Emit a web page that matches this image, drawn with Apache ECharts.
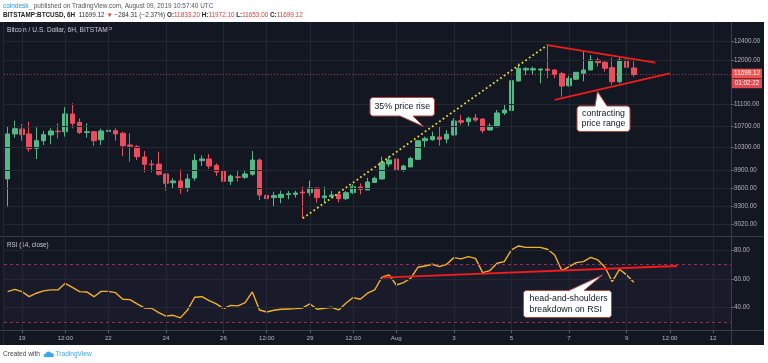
<!DOCTYPE html>
<html><head><meta charset="utf-8">
<script src="https://cdn.jsdelivr.net/npm/echarts@6/dist/echarts.min.js"></script>
<style>html,body{margin:0;padding:0;background:#fff}#c{width:768px;height:363px}</style>
</head><body><div id="c"></div>
<script>
// ---------- DATA ----------
// 6H candles starting 2019-07-18 12:00 UTC
const opens  = [9754,10549,10640,10549,10288,10425,10530,10600,10590,10922,10765,10575,10590,10443,10595,10610,10561,10348,10318,10134,10010,10010,9840,9690,9720,9607,9771,10070,10099,9988,9891,9715,9790,9782,9834,10081,9481,9443,9443,9492,9497,9535,9524,9602,9443,9460,9497,9426,9524,9619,9569,9696,9754,10011,10099,9902,9960,10093,10425,10443,10493,10455,10530,10795,10776,10846,10827,10622,10683,10941,10990,11566,11790,11790,11790,11811,11790,11716,11472,11603,11723,11790,11997,11948,11838,11552,11997,11833.2];
const closes = [10549,10646,10536,10281,10425,10536,10604,10590,10922,10747,10575,10590,10425,10604,10616,10549,10335,10326,10139,10006,10000,9834,9681,9720,9590,9754,10075,10099,9977,9874,9715,9805,9780,9840,10081,9486,9426,9475,9497,9508,9519,9519,9602,9443,9470,9486,9426,9524,9624,9580,9703,9766,10040,10081,9908,9977,10110,10425,10468,10500,10450,10543,10790,10765,10840,10808,10610,10697,10941,10998,11572,11825,11825,11818,11811,11784,11703,11466,11620,11743,11790,11997,11941,11825,11552,11997,11846,11699.12];
const lows   = [9285,10480,10425,10228,10099,10348,10360,10468,10500,10653,10549,10480,10330,10348,10518,10425,10151,10051,10081,9868,9868,9810,9557,9590,9508,9540,9725,9977,9925,9805,9647,9652,9708,9754,9810,9404,9285,9295,9350,9415,9443,9109,9475,9360,9360,9443,9366,9404,9503,9497,9569,9685,9749,9960,9902,9874,9960,10081,10308,10425,10335,10379,10518,10715,10683,10776,10561,10610,10672,10900,10980,11560,11689,11689,11520,11623,11623,11256,11453,11589,11560,11784,11858,11756,11486,11520,11805,11653];
const highs  = [10683,10795,10734,10776,10672,10604,10653,10747,11052,11127,10840,10747,10595,10646,10683,10653,10590,10561,10348,10240,10081,10228,9845,9766,9920,9840,10187,10164,10187,10023,9908,9834,9897,9902,10240,10110,9514,9540,9557,9552,9557,9624,9725,9610,9624,9552,9524,9552,9663,9680,9774,9794,10140,10140,10140,10000,10140,10438,10500,10590,10683,10622,10840,10903,10872,10922,10840,10747,10998,11094,11586,11928,11846,11858,11818,12314,11811,11750,11668,11750,12175,12102,12045,11982,12045,12045,12045,11972.1];
const rsi = [51.1,52.7,51.1,47.6,50.0,51.6,52.3,52.3,56.9,54.1,51.1,50.9,47.6,51.3,51.3,50.4,45.8,45.6,42.6,39.8,39.6,36.6,34.2,34.7,32.9,38.4,47.2,47.6,44.9,42.6,39.3,41.6,41.2,43.5,50.9,38.4,37.0,38.2,38.9,39.1,39.3,39.8,42.6,38.9,39.6,40.3,38.4,43.0,47.0,45.8,50.0,52.3,61.1,62.7,55.7,57.4,60.4,68.0,68.9,70.1,68.4,70.1,74.7,73.8,75.4,74.2,64.3,65.7,70.8,71.9,80.0,82.8,81.8,81.8,81.8,80.5,76.5,65.7,68.4,71.2,71.9,74.9,73.1,68.0,58.0,66.6,62.7,57.6];
const lastPrice = 11699.12;
const priceTicks = [9020,9300,9600,9900,10300,10700,11100,12000,12400];
const rsiTicks = [40,60,80];
const rsiBands = [30,70];
const tickCats   = ['07-19 00:00','07-20 12:00','07-22 00:00','07-24 00:00','07-26 00:00','07-27 12:00','07-29 00:00','07-30 12:00','08-01 00:00','08-03 00:00','08-05 00:00','08-07 00:00','08-09 00:00','08-10 12:00','08-12 00:00'];
const tickLabels = ['19','12:00','22','24','26','12:00','29','12:00','Aug','3','5','7','9','12:00','12'];
// trend lines: [categoryIndex, value]
const riseLine  = [[41,9109],[75,12314]];
const triUpper  = [[75,12314],[90,11941]];
const triLower  = [[76,11191],[92,11723]];
const rsiLine   = [[52,60.8],[93,68.9]];

// ---------- AXIS SCAFFOLD ----------
const pad = n => String(n).padStart(2,'0');
const cats = [];
const t0 = Date.UTC(2019,6,18,12);
for (let k=0;k<101;k++){const d=new Date(t0+k*6*3600e3);cats.push(pad(d.getUTCMonth()+1)+'-'+pad(d.getUTCDate())+' '+pad(d.getUTCHours())+':00');}
const labelMap = {}; tickCats.forEach((c,i)=>labelMap[c]=tickLabels[i]);
const candles = opens.map((o,i)=>[o,closes[i],lows[i],highs[i]]);

const BG='#131722', GRID='#242833', SEP='#3a3e4a', TXT='#b2b5be';
const UP='#53b987', DN='#eb4d5c';
const F='Liberation Sans';

function seg(pts){return [{coord:[cats[pts[0][0]],pts[0][1]]},{coord:[cats[pts[1][0]],pts[1][1]]}];}

// callout shapes (annotation layout, pixels)
const callouts = [
 {x:370, y:97.5, w:64.5, h:18.5, side:'bottom', b1:400, b2:413, tx:423.5, ty:126.5, lines:['35% price rise'], align:'center'},
 {x:577, y:106, w:53, h:25.5, side:'top', b1:595, b2:607, tx:597.5, ty:91.5, lines:['contracting','price range'], align:'center'},
 {x:523.5, y:290.5, w:88, h:27, side:'top', b1:569, b2:584, tx:602.5, ty:275, lines:['head-and-shoulders','breakdown on RSI'], align:'left'}
];
function arc(pts,cx,cy,r,a0,a1){for(let k=0;k<=4;k++){const a=a0+(a1-a0)*k/4;pts.push([cx+r*Math.cos(a),cy+r*Math.sin(a)]);}}
function calloutPoly(c){
  const {x,y,w,h}=c, r=3, P=Math.PI, pts=[];
  arc(pts,x+r,y+r,r,P,1.5*P);
  if(c.side==='top'){pts.push([c.b1,y],[c.tx,c.ty],[c.b2,y]);}
  arc(pts,x+w-r,y+r,r,1.5*P,2*P);
  arc(pts,x+w-r,y+h-r,r,0,0.5*P);
  if(c.side==='bottom'){pts.push([c.b2,y+h],[c.tx,c.ty],[c.b1,y+h]);}
  arc(pts,x+r,y+h-r,r,0.5*P,P);
  return pts;
}
const graphics = [
  {type:'rect',shape:{x:0,y:0,width:768,height:22},style:{fill:'#fff'},silent:true},
  {type:'rect',shape:{x:0,y:345,width:768,height:18},style:{fill:'#fff'},silent:true},
  {type:'rect',shape:{x:764,y:0,width:4,height:363},style:{fill:'#fff'},silent:true},
  {type:'line',shape:{x1:0,y1:236.5,x2:764,y2:236.5},style:{stroke:SEP,lineWidth:1},silent:true},
  {type:'line',shape:{x1:0,y1:330.5,x2:764,y2:330.5},style:{stroke:SEP,lineWidth:1},silent:true},
  {type:'line',shape:{x1:731.5,y1:22,x2:731.5,y2:345},style:{stroke:SEP,lineWidth:1},silent:true},
  {type:'line',shape:{x1:3.5,y1:22,x2:3.5,y2:345},style:{stroke:GRID,lineWidth:1},silent:true},
  {type:'text',x:3,y:6.5,style:{text:'{a|coindesk_} published on TradingView.com, August 09, 2019 10:57:40 UTC',fill:'#555',font:'6.45px '+F,verticalAlign:'middle',rich:{a:{fill:'#2196f3',font:'6.45px '+F}}},silent:true},
  {type:'text',x:3,y:15.5,style:{text:'{b|BITSTAMP:BTCUSD, 6H}  11699.12 {r|▼} −284.31 (−2.37%) {b|O:}{r|11833.20} {b|H:}{r|11972.10} {b|L:}{r|11653.00} {b|C:}{r|11699.12}',fill:'#333',font:'6.35px '+F,verticalAlign:'middle',rich:{b:{fill:'#222',font:'bold 6.35px '+F},r:{fill:'#e53935',font:'6.35px '+F}}},silent:true},
  {type:'text',x:7,y:30,style:{text:'Bitcoin / U.S. Dollar, 6H, BITSTAMP',fill:'#c8cbd3',font:'6.6px '+F,verticalAlign:'middle'},silent:true},
  {type:'text',x:7,y:245,style:{text:'RSI (14, close)',fill:'#c8cbd3',font:'6.3px '+F,verticalAlign:'middle'},silent:true},
  {type:'text',x:3,y:354.5,style:{text:'Created with',fill:'#444',font:'6.6px '+F,verticalAlign:'middle'},silent:true},
  {type:'circle',shape:{cx:48.5,cy:354,r:2.6},style:{fill:'#3ea6f0'},silent:true},
  {type:'circle',shape:{cx:51.8,cy:355,r:2},style:{fill:'#3ea6f0'},silent:true},
  {type:'circle',shape:{cx:45.2,cy:355.4,r:1.6},style:{fill:'#3ea6f0'},silent:true},
  {type:'rect',shape:{x:44,y:355.3,width:9.5,height:1.8},style:{fill:'#3ea6f0'},silent:true},
  {type:'text',x:55.5,y:354.5,style:{text:'TradingView',fill:'#3ea6f0',font:'6.6px '+F,verticalAlign:'middle'},silent:true}
];
callouts.forEach(c=>{
  graphics.push({type:'polygon',shape:{points:calloutPoly(c)},style:{fill:'#fff',stroke:'#b5473f',lineWidth:1},z:10,silent:true});
  const lh=10.5, n=c.lines.length, cy=c.y+c.h/2;
  c.lines.forEach((s,i)=>{
    graphics.push({type:'text',z:11,x:c.align==='center'?c.x+c.w/2:c.x+6,y:cy+(i-(n-1)/2)*lh,
      style:{text:s,fill:'#131722',font:'8.8px '+F,align:c.align,verticalAlign:'middle'},silent:true});
  });
});

const gridLineStyle={color:GRID,width:1,type:'solid'};
const bandLine={color:'#93305e',type:[3,3],width:1};
const option = {
  backgroundColor: BG,
  animation:false,
  grid:[
    {left:4,top:22,width:727,height:214,outerBoundsMode:'none',containLabel:false},
    {left:4,top:236,width:727,height:94,outerBoundsMode:'none',containLabel:false}
  ],
  xAxis:[
    {type:'category',gridIndex:0,data:cats,boundaryGap:true,axisLabel:{show:false},axisTick:{show:false},axisLine:{show:false},splitLine:{show:false}},
    {type:'category',gridIndex:1,data:cats,boundaryGap:true,axisLine:{show:false},splitLine:{show:false},
      axisTick:{show:true,alignWithLabel:true,interval:(i,v)=>v in labelMap,length:3,lineStyle:{color:'#5d606b'}},
      axisLabel:{interval:(i,v)=>v in labelMap,formatter:v=>labelMap[v]||'',color:TXT,fontSize:6.2,fontFamily:F,margin:5}}
  ],
  yAxis:[
    {type:'log',logBase:10,gridIndex:0,position:'right',min:8833,max:12817,axisLine:{show:false},splitLine:{show:false},
      axisTick:{show:true,customValues:priceTicks,length:3,lineStyle:{color:'#5d606b'}},
      axisLabel:{customValues:priceTicks,formatter:v=>Number(v).toFixed(2),color:TXT,fontSize:6.3,fontFamily:F,margin:3}},
    {type:'value',gridIndex:1,position:'right',min:24.5,max:89.7,axisLine:{show:false},splitLine:{show:false},
      axisTick:{show:true,customValues:rsiTicks,length:3,lineStyle:{color:'#5d606b'}},
      axisLabel:{customValues:rsiTicks,formatter:v=>Number(v).toFixed(2),color:TXT,fontSize:6.3,fontFamily:F,margin:3}}
  ],
  graphic:{elements:graphics},
  series:[
    {type:'line',xAxisIndex:0,yAxisIndex:0,data:[],z:1,silent:true,
      markLine:{silent:true,symbol:['none','none'],label:{show:false},lineStyle:gridLineStyle,animation:false,
        data:tickCats.map(c=>({xAxis:c})).concat(priceTicks.map(v=>({yAxis:v})))}},
    {type:'line',xAxisIndex:1,yAxisIndex:1,data:[],z:1,silent:true,
      markArea:{silent:true,itemStyle:{color:'rgba(149,117,205,0.05)'},data:[[{yAxis:rsiBands[0]},{yAxis:rsiBands[1]}]]},
      markLine:{silent:true,symbol:['none','none'],label:{show:false},lineStyle:gridLineStyle,animation:false,
        data:tickCats.map(c=>({xAxis:c})).concat(rsiTicks.map(v=>({yAxis:v})))}},
    {type:'candlestick',xAxisIndex:0,yAxisIndex:0,data:candles,z:3,barWidth:5,
      itemStyle:{color:UP,color0:DN,borderColor:UP,borderColor0:DN,borderWidth:1},
      markLine:{silent:true,symbol:['none','none'],animation:false,
        lineStyle:{color:'rgba(235,77,92,0.7)',type:[1,2],width:1},
        label:{show:true,position:'end',distance:1,offset:[0,4],formatter:'{a|11699.12}\n{b|01:02:22}',
          rich:{a:{backgroundColor:'#ef5350',color:'#fff',fontSize:6.3,fontFamily:F,width:30,height:9.5,align:'center',lineHeight:10},
                b:{backgroundColor:'#e04a55',color:'#ffe',fontSize:6.3,fontFamily:F,width:30,height:9.5,align:'center',lineHeight:10}}},
        data:[{yAxis:lastPrice}]}},
    {type:'line',xAxisIndex:0,yAxisIndex:0,data:[],z:5,silent:true,
      markLine:{silent:true,symbol:['none','none'],label:{show:false},animation:false,
        data:[seg(riseLine)],lineStyle:{color:'#ecd43c',width:1.8,type:[1.8,2.6]}}},
    {type:'line',xAxisIndex:0,yAxisIndex:0,data:[],z:5,silent:true,
      markLine:{silent:true,symbol:['none','none'],label:{show:false},animation:false,
        data:[seg(triUpper),seg(triLower)],lineStyle:{color:'#f21c1c',width:1.8,type:'solid'}}},
    {type:'line',xAxisIndex:1,yAxisIndex:1,data:rsi,z:4,symbol:'none',silent:true,
      lineStyle:{color:'#f2b12a',width:1.4},
      markLine:{silent:true,symbol:['none','none'],label:{show:false},animation:false,lineStyle:bandLine,
        data:rsiBands.map(v=>({yAxis:v}))}},
    {type:'line',xAxisIndex:1,yAxisIndex:1,data:[],z:6,silent:true,
      markLine:{silent:true,symbol:['none','none'],label:{show:false},animation:false,
        data:[seg(rsiLine)],lineStyle:{color:'#f21c1c',width:1.8,type:'solid'}}}
  ]
};
const chart = echarts.init(document.getElementById('c'));
chart.setOption(option);
</script></body></html>
